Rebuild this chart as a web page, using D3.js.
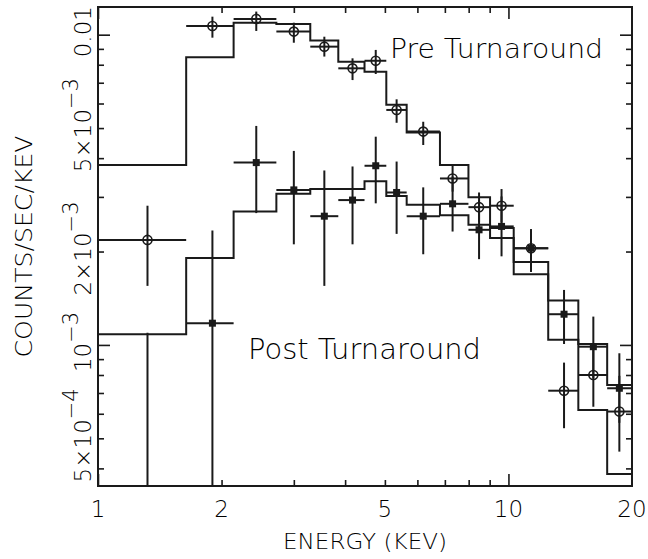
<!DOCTYPE html>
<html>
<head>
<meta charset="utf-8">
<script src="https://cdnjs.cloudflare.com/ajax/libs/d3/7.8.5/d3.min.js"></script>
<style>
    body { margin: 0; background: #fff; }
    svg { display: block; }
    text { font-family: "DejaVu Sans", sans-serif; font-weight: 200; fill: #000; }
</style>
</head>
<body>
<script>
// energy bins (keV) and bin centres
var binEdges = [1.0, 1.64, 2.14, 2.72, 3.29, 3.85, 4.46, 5.04, 5.65, 6.81, 7.99, 9.02, 10.3, 12.5, 14.8, 17.4, 20.0];
var energy = [1.32, 1.90, 2.43, 3.00, 3.56, 4.17, 4.75, 5.34, 6.20, 7.31, 8.48, 9.62, 11.35, 13.66, 16.10, 18.63];

// pre turnaround: data, error range, model
var preRate = [2.18e-3, 1.066e-2, 1.124e-2, 1.023e-2, 9.15e-3, 7.79e-3, 8.24e-3, 5.72e-3, 4.87e-3, 3.44e-3, 2.78e-3, 2.81e-3, 2.05e-3, 7.12e-4, 8.00e-4, 6.10e-4];
var preHigh = [2.81e-3, 1.143e-2, 1.187e-2, 1.093e-2, 9.85e-3, 8.39e-3, 8.93e-3, 6.19e-3, 5.24e-3, 3.80e-3, 3.10e-3, 3.18e-3, 2.36e-3, 8.77e-4, 1.0e-3, 7.95e-4];
var preLow = [1.55e-3, 9.78e-3, 1.028e-2, 9.42e-3, 8.50e-3, 7.14e-3, 7.47e-3, 5.20e-3, 4.41e-3, 3.12e-3, 2.49e-3, 2.48e-3, 1.72e-3, 5.39e-4, 6.32e-4, 4.53e-4];
var preModel = [3.80e-3, 8.46e-3, 1.093e-2, 1.083e-2, 9.57e-3, 8.18e-3, 7.60e-3, 5.94e-3, 4.84e-3, 3.80e-3, 2.99e-3, 2.38e-3, 1.85e-3, 1.04e-3, 6.17e-4, 3.84e-4];

// post turnaround: data, error range, model
var postRate = [2.0e-4, 1.175e-3, 3.87e-3, 3.16e-3, 2.60e-3, 2.93e-3, 3.78e-3, 3.10e-3, 2.60e-3, 2.85e-3, 2.35e-3, 2.41e-3, 2.05e-3, 1.256e-3, 9.87e-4, 7.25e-4];
var postHigh = [1.095e-3, 2.34e-3, 5.08e-3, 4.22e-3, 3.65e-3, 3.76e-3, 4.69e-3, 3.90e-3, 3.22e-3, 3.49e-3, 2.93e-3, 3.01e-3, 2.36e-3, 1.504e-3, 1.234e-3, 9.40e-4];
var postLow = [1e-5, 1e-5, 2.66e-3, 2.11e-3, 1.55e-3, 2.11e-3, 2.86e-3, 2.28e-3, 1.96e-3, 2.32e-3, 1.89e-3, 1.93e-3, 1.72e-3, 1.007e-3, 7.83e-4, 5.61e-4];
var postModel = [1.083e-3, 1.908e-3, 2.69e-3, 3.07e-3, 3.18e-3, 3.18e-3, 3.37e-3, 3.02e-3, 2.83e-3, 2.62e-3, 2.44e-3, 2.21e-3, 1.69e-3, 1.39e-3, 1.007e-3, 7.43e-4];

// ticks and labels
var xLabelVals = [1, 2, 5, 10, 20];
var xMajor = [1, 10];
var xMinor = [2, 3, 4, 5, 6, 7, 8, 9];
var yMajor = [1e-3, 1e-2];
var yMinor = [4e-4, 5e-4, 6e-4, 7e-4, 8e-4, 9e-4, 2e-3, 3e-3, 4e-3, 5e-3, 6e-3, 7e-3, 8e-3, 9e-3];
var yLabelVals = [5e-4, 1e-3, 2e-3, 5e-3, 1e-2];
var yLabelText = ["5×10^−4", "10^−3", "2×10^−3", "5×10^−3", "0.01"];

// set the dimensions and margins of the graph
var margin = { top: 7, right: 16, bottom: 73, left: 98 },
    width = 648 - margin.left - margin.right,
    height = 559 - margin.top - margin.bottom;

var x = d3.scaleLog().domain([1, 20]).range([0, width]);
var y = d3.scaleLog().domain([3.51e-4, 0.01228]).range([height, 0]);

var ink = "#1a1a1a";

var svg = d3.select("body").append("svg")
    .attr("width", 648)
    .attr("height", 559);

svg.append("rect").attr("width", 648).attr("height", 559).attr("fill", "#fff");

var g = svg.append("g")
    .attr("transform", "translate(" + margin.left + "," + margin.top + ")");

g.append("clipPath").attr("id", "plotclip")
    .append("rect").attr("width", width).attr("height", height);

// ticks, all pointing inward
function tickAxis(axis, vals, size, tx, ty) {
    var a = g.append("g")
        .attr("transform", "translate(" + tx + "," + ty + ")")
        .call(axis.tickValues(vals).tickSize(-size).tickFormat(""));
    a.select(".domain").remove();
    a.selectAll("line").attr("stroke", ink).attr("stroke-width", 1.6);
}
tickAxis(d3.axisBottom(x), xMinor, 6, 0, height);
tickAxis(d3.axisBottom(x), xMajor, 12, 0, height);
tickAxis(d3.axisTop(x), xMinor, 6, 0, 0);
tickAxis(d3.axisTop(x), xMajor, 12, 0, 0);
tickAxis(d3.axisLeft(y), yMinor, 6, 0, 0);
tickAxis(d3.axisLeft(y), yMajor, 12, 0, 0);
tickAxis(d3.axisRight(y), yMinor, 6, width, 0);
tickAxis(d3.axisRight(y), yMajor, 12, width, 0);

// frame
g.append("rect")
    .attr("width", width).attr("height", height)
    .attr("fill", "none").attr("stroke", ink).attr("stroke-width", 2);

// x tick labels
g.selectAll(".xlab").data(xLabelVals).enter().append("text")
    .attr("class", "xlab")
    .attr("x", function (d) { return x(d); })
    .attr("y", height + 31)
    .attr("text-anchor", "middle")
    .attr("font-size", 23)
    .text(function (d) { return d; });

// y tick labels, rotated, with superscript exponents
yLabelVals.forEach(function (v, i) {
    var parts = yLabelText[i].split("^");
    var t = g.append("text")
        .attr("transform", "translate(-7," + (y(v) - 3) + ") rotate(-90)")
        .attr("text-anchor", "middle")
        .attr("font-size", 23);
    t.append("tspan").text(parts[0]);
    if (parts.length > 1) {
        t.append("tspan").attr("dy", "-0.62em").attr("font-size", 21).text(parts[1]);
    }
});

// axis titles
svg.append("text")
    .attr("x", margin.left + width / 2)
    .attr("y", 549)
    .attr("text-anchor", "middle")
    .attr("font-size", 22)
    .attr("textLength", 164)
    .attr("lengthAdjust", "spacingAndGlyphs")
    .text("ENERGY (KEV)");

svg.append("text")
    .attr("transform", "translate(32," + (margin.top + height / 2) + ") rotate(-90)")
    .attr("text-anchor", "middle")
    .attr("font-size", 23)
    .attr("textLength", 222)
    .attr("lengthAdjust", "spacingAndGlyphs")
    .text("COUNTS/SEC/KEV");

// model step lines
var plot = g.append("g").attr("clip-path", "url(#plotclip)");

var stepline = d3.line()
    .x(function (d) { return x(d[0]); })
    .y(function (d) { return y(d[1]); })
    .curve(d3.curveStepAfter);

function steps(model) {
    var pts = model.map(function (v, i) { return [binEdges[i], v]; });
    pts.push([binEdges[binEdges.length - 1], model[model.length - 1]]);
    return pts;
}

[preModel, postModel].forEach(function (m) {
    plot.append("path")
        .datum(steps(m))
        .attr("fill", "none")
        .attr("stroke", ink)
        .attr("stroke-width", 2)
        .attr("d", stepline);
});

// error bars
function errorBars(rate, low, high) {
    rate.forEach(function (v, i) {
        plot.append("line")
            .attr("x1", x(binEdges[i])).attr("x2", x(binEdges[i + 1]))
            .attr("y1", y(v)).attr("y2", y(v))
            .attr("stroke", ink).attr("stroke-width", 2);
        plot.append("line")
            .attr("x1", x(energy[i])).attr("x2", x(energy[i]))
            .attr("y1", y(low[i])).attr("y2", y(high[i]))
            .attr("stroke", ink).attr("stroke-width", 2);
    });
}
errorBars(preRate, preLow, preHigh);
errorBars(postRate, postLow, postHigh);

// pre: open circles
plot.selectAll(".pre").data(preRate).enter().append("circle")
    .attr("class", "pre")
    .attr("cx", function (d, i) { return x(energy[i]); })
    .attr("cy", function (d) { return y(d); })
    .attr("r", 4.5)
    .attr("fill", "none")
    .attr("stroke", ink)
    .attr("stroke-width", 1.6);

// post: filled squares
plot.selectAll(".post").data(postRate).enter().append("rect")
    .attr("class", "post")
    .attr("x", function (d, i) { return x(energy[i]) - 3.5; })
    .attr("y", function (d) { return y(d) - 3.5; })
    .attr("width", 7).attr("height", 7)
    .attr("fill", ink);

// annotations
g.append("text")
    .attr("x", 292).attr("y", 51)
    .attr("font-size", 27)
    .attr("textLength", 213)
    .attr("lengthAdjust", "spacingAndGlyphs")
    .text("Pre Turnaround");

g.append("text")
    .attr("x", 150).attr("y", 352)
    .attr("font-size", 28)
    .attr("textLength", 233)
    .attr("lengthAdjust", "spacingAndGlyphs")
    .text("Post Turnaround");
</script>
</body>
</html>
